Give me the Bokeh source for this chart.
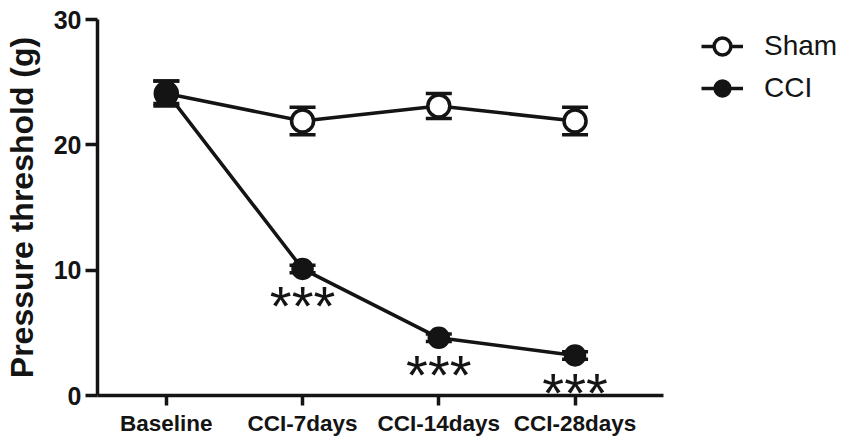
from bokeh.plotting import figure
from bokeh.models import (ColumnDataSource, Range1d, FixedTicker, Whisker, TeeHead,
                          Legend, LegendItem)
from bokeh.embed import file_html
from bokeh.resources import INLINE
from bokeh.core.properties import value

# ---- data ----
categories = ["Baseline", "CCI-7days", "CCI-14days", "CCI-28days"]
sham_mean = [24.1, 21.9, 23.1, 21.9]
sham_err = [1.0, 1.1, 1.0, 1.1]
cci_mean = [24.2, 10.1, 4.6, 3.2]
cci_err = [0.9, 0.3, 0.3, 0.3]
cci_sig = ["", "***", "***", "***"]
y_ticks = [0, 10, 20, 30]

idx = list(range(len(categories)))
INK = "#141414"

sham_src = ColumnDataSource(dict(
    x=idx, y=sham_mean,
    lo=[m - e for m, e in zip(sham_mean, sham_err)],
    hi=[m + e for m, e in zip(sham_mean, sham_err)]))
cci_src = ColumnDataSource(dict(
    x=idx, y=cci_mean, sig=cci_sig,
    lo=[m - e for m, e in zip(cci_mean, cci_err)],
    hi=[m + e for m, e in zip(cci_mean, cci_err)]))

# frame spans the legend area too; the x axis line is bounded to the data part
p = figure(width=850, height=441, output_backend="svg", toolbar_location=None,
           x_range=Range1d(-0.505, 4.985), y_range=Range1d(0, 30),
           min_border_left=96, min_border_top=19, min_border_bottom=46,
           min_border_right=5)
p.outline_line_color = None
p.xgrid.visible = False
p.ygrid.visible = False
p.background_fill_color = "white"

# axes
for ax in (p.xaxis[0], p.yaxis[0]):
    ax.axis_line_width = 3.5
    ax.axis_line_color = INK
    ax.major_tick_line_width = 3.5
    ax.major_tick_line_color = INK
    ax.major_tick_in = 0
    ax.minor_tick_line_color = None
    ax.major_label_text_font = "Liberation Sans"
    ax.major_label_text_font_style = "bold"
    ax.major_label_text_color = INK

p.xaxis.bounds = (-0.505, 3.652)
p.xaxis.ticker = FixedTicker(ticks=idx)
p.xaxis.major_label_overrides = {i: c for i, c in zip(idx, categories)}
p.xaxis.major_tick_out = 10
p.xaxis.major_label_text_font_size = "22.5px"
p.xaxis.major_label_standoff = 5

p.yaxis.ticker = FixedTicker(ticks=y_ticks)
p.yaxis.major_tick_out = 12
p.yaxis.major_label_text_font_size = "25px"
p.yaxis.major_label_standoff = 4
p.yaxis.axis_label = "Pressure threshold (g)"
p.yaxis.axis_label_text_font = "Liberation Sans"
p.yaxis.axis_label_text_font_style = "bold"
p.yaxis.axis_label_text_font_size = "32px"
p.yaxis.axis_label_text_color = INK
p.yaxis.axis_label_standoff = 11

# error bars
for src in (sham_src, cci_src):
    w = Whisker(source=src, base="x", upper="hi", lower="lo",
                line_width=3.5, line_color=INK,
                upper_head=TeeHead(size=26, line_width=3.5, line_color=INK),
                lower_head=TeeHead(size=26, line_width=3.5, line_color=INK))
    p.add_layout(w)

# series
sham_line = p.line("x", "y", source=sham_src, line_width=3.5, line_color=INK)
sham_pts = p.scatter("x", "y", source=sham_src, marker="circle", size=22,
                     fill_color="white", line_color=INK, line_width=3.5)
cci_line = p.line("x", "y", source=cci_src, line_width=3.5, line_color=INK)
cci_pts = p.scatter("x", "y", source=cci_src, marker="circle", size=21,
                    fill_color=INK, line_color=INK, line_width=1.5)

# significance stars
p.text("x", "y", text="sig", source=cci_src, text_font=value("Liberation Sans"),
       text_font_size="56px", text_color=INK, text_align="center",
       text_baseline="middle", y_offset=37)

legend = Legend(items=[
    LegendItem(label="Sham", renderers=[sham_line, sham_pts]),
    LegendItem(label="CCI", renderers=[cci_line, cci_pts]),
], location=(604, 286), padding=0, margin=0, spacing=0,
    glyph_width=42, glyph_height=42, label_standoff=21,
    label_text_font="Liberation Sans", label_text_font_size="28px",
    label_text_color=INK, background_fill_alpha=0, border_line_color=None)
p.add_layout(legend, "center")

open("out.html", "w").write(file_html(p, INLINE))
